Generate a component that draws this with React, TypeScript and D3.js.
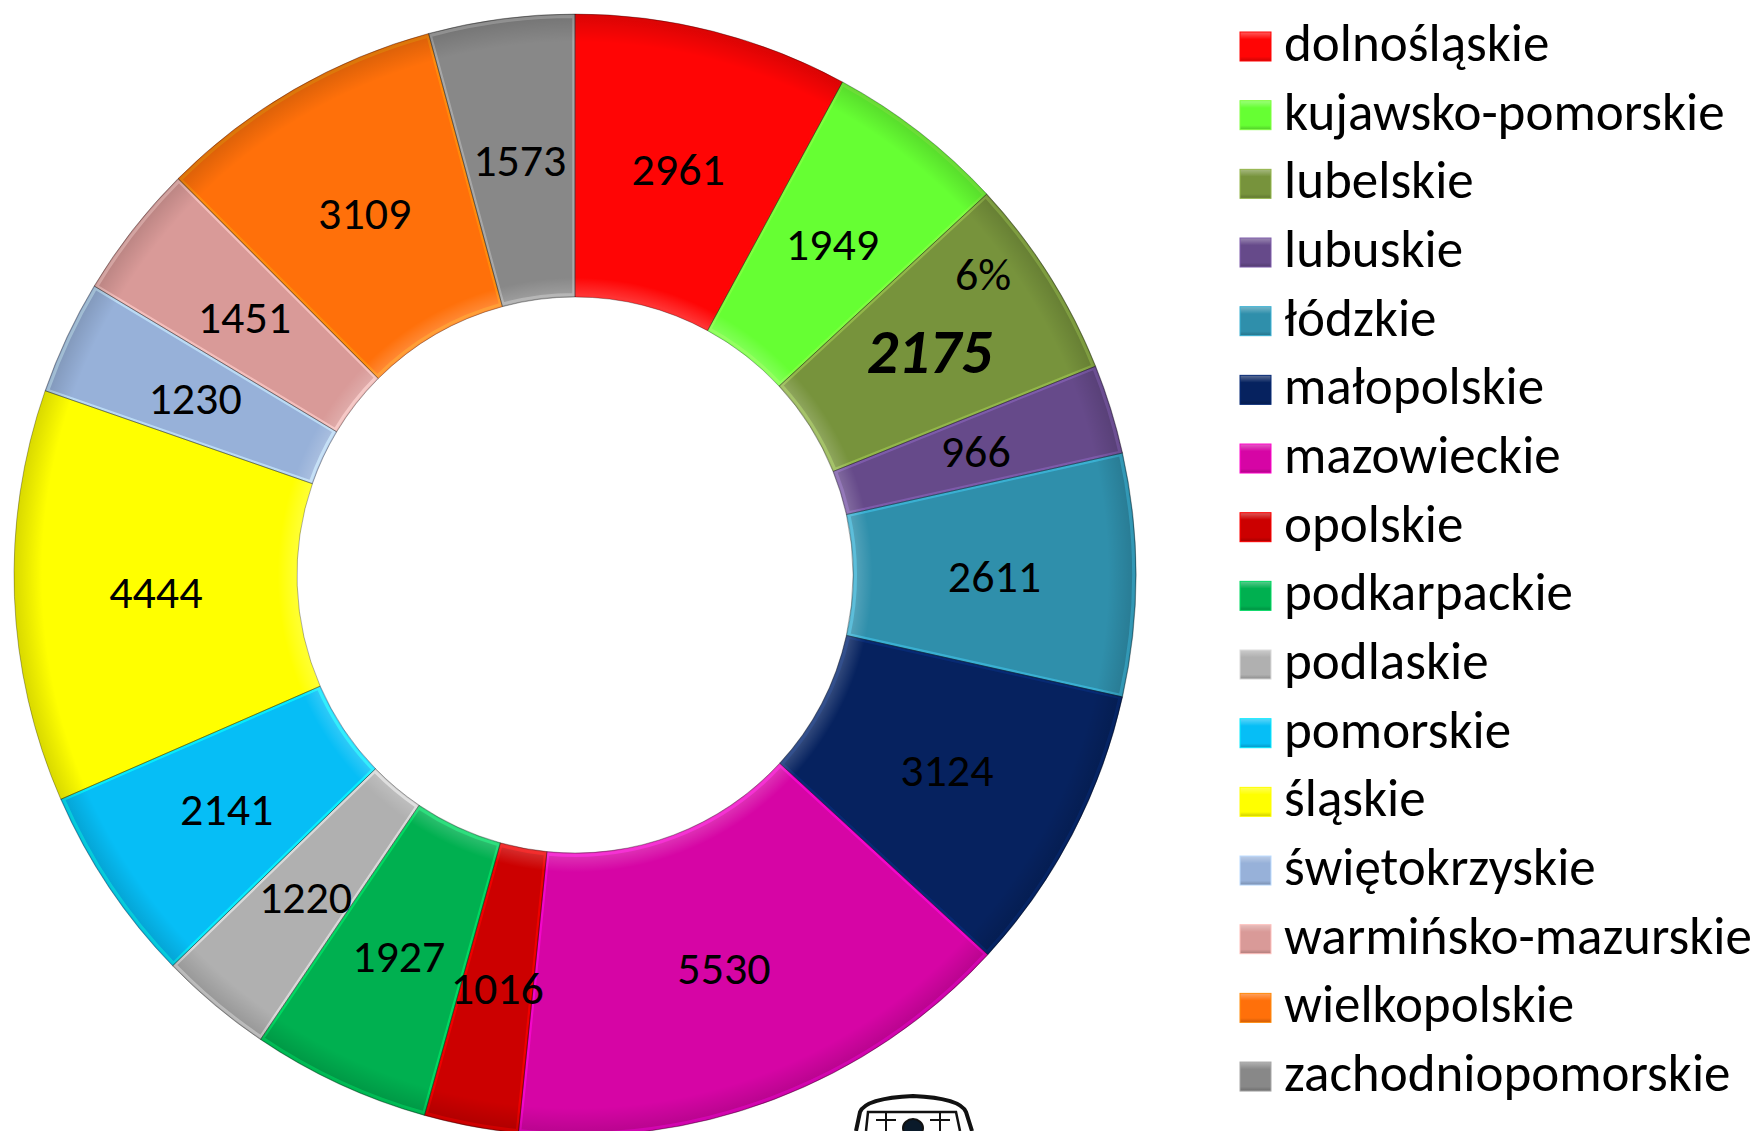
import React from "react";
import * as d3 from "d3";

const regions = [
  "dolnośląskie",
  "kujawsko-pomorskie",
  "lubelskie",
  "lubuskie",
  "łódzkie",
  "małopolskie",
  "mazowieckie",
  "opolskie",
  "podkarpackie",
  "podlaskie",
  "pomorskie",
  "śląskie",
  "świętokrzyskie",
  "warmińsko-mazurskie",
  "wielkopolskie",
  "zachodniopomorskie",
];

const values = [2961, 1949, 2175, 966, 2611, 3124, 5530, 1016, 1927, 1220, 2141, 4444, 1230, 1451, 3109, 1573];

const colors = [
  "#FF0505",
  "#66FF33",
  "#77933C",
  "#664A8A",
  "#2F8FAB",
  "#06225F",
  "#D605A5",
  "#CC0000",
  "#00B050",
  "#B0B0B0",
  "#06BEF6",
  "#FFFF00",
  "#97B1D9",
  "#D99A98",
  "#FF700A",
  "#888888",
];

// the one point that shows its percentage and a bold italic value
const highlighted = "lubelskie";

const W = 1762;
const H = 1131;
const cx = 575;
const cy = 575;
const outerR = 561;
const innerR = 278;
const FONT = "Carlito, Calibri, Lato, sans-serif";

export default function App() {
  const pie = d3
    .pie<number>()
    .sort(null)
    .value((d) => d);
  const arcs = pie(values);
  const total = d3.sum(values);

  const arc = d3.arc<d3.PieArcDatum<number>>().innerRadius(innerR).outerRadius(outerR);
  const bevel = d3
    .arc<d3.PieArcDatum<number>>()
    .innerRadius(innerR + 2.5)
    .outerRadius(outerR - 2.5)
    .padAngle(0.004);

  const legendY = d3
    .scalePoint<string>()
    .domain(regions)
    .range([32, 32 + 68.67 * (regions.length - 1)]);

  return (
    <svg
      width={W}
      height={H}
      style={{ position: "absolute", left: 0, top: 0, background: "#fff" }}
      fontFamily={FONT}
    >
      <defs>
        <radialGradient id="shade" gradientUnits="userSpaceOnUse" cx={0} cy={0} r={outerR}>
          <stop offset="0.5" stopColor="#fff" stopOpacity={0.18} />
          <stop offset="0.53" stopColor="#fff" stopOpacity={0} />
          <stop offset="0.95" stopColor="#000" stopOpacity={0} />
          <stop offset="1" stopColor="#000" stopOpacity={0.15} />
        </radialGradient>
        <linearGradient id="sq" x1="0" y1="0" x2="0" y2="1">
          <stop offset="0" stopColor="#fff" stopOpacity={0.35} />
          <stop offset="0.25" stopColor="#fff" stopOpacity={0} />
          <stop offset="0.85" stopColor="#000" stopOpacity={0} />
          <stop offset="1" stopColor="#000" stopOpacity={0.2} />
        </linearGradient>
      </defs>

      <g transform={`translate(${cx},${cy})`}>
        {arcs.map((a, i) => (
          <path key={`f${i}`} d={arc(a) || ""} fill={colors[i]} />
        ))}
        {arcs.map((a, i) => (
          <path
            key={`b${i}`}
            d={bevel(a) || ""}
            fill="none"
            stroke={d3.color(colors[i])!.brighter(0.8).formatHex()}
            strokeOpacity={0.7}
            strokeWidth={3}
          />
        ))}
        {arcs.map((a, i) => (
          <path key={`s${i}`} d={arc(a) || ""} fill="url(#shade)" stroke="rgba(0,0,0,0.3)" strokeWidth={1} />
        ))}
        {arcs.map((a, i) => {
          const [x, y] = arc.centroid(a);
          const big = regions[i] === highlighted;
          return (
            <text
              key={`l${i}`}
              x={x}
              y={y}
              dy="0.36em"
              textAnchor="middle"
              fontSize={big ? 62 : 46}
              fontWeight={big ? "bold" : "normal"}
              fontStyle={big ? "italic" : "normal"}
              fill="#000"
            >
              {values[i]}
            </text>
          );
        })}
        {arcs
          .filter((a, i) => regions[i] === highlighted)
          .map((a) => {
            const ang = a.startAngle + 0.3 * (a.endAngle - a.startAngle);
            const r = outerR * 0.905;
            return (
              <text
                key="pct"
                x={r * Math.sin(ang)}
                y={-r * Math.cos(ang)}
                dy="0.36em"
                textAnchor="middle"
                fontSize={46}
                fill="#000"
              >
                {d3.format(".0%")(a.value / total)}
              </text>
            );
          })}
      </g>

      <g>
        {regions.map((name, i) => (
          <g key={name} transform={`translate(1240,${legendY(name)})`}>
            <rect width={31} height={29} fill={colors[i]} />
            <rect width={31} height={29} fill="url(#sq)" stroke={d3.color(colors[i])!.brighter(0.6).formatHex()} strokeWidth={1} />
            <text x={44} y={29} fontSize={53} fill="#000">
              {name}
            </text>
          </g>
        ))}
      </g>

      {/* partial logo at the bottom edge */}
      <g fill="none" stroke="#111" strokeWidth={4}>
        <path d="M856,1131 L860,1112 Q866,1098 913,1096 Q960,1098 966,1112 L972,1131" fill="#fff" />
        <path d="M866,1131 L868,1112 L956,1112 L960,1131" strokeWidth={2.5} />
        <path d="M876,1120 L896,1120 M886,1112 L886,1131 M930,1120 L950,1120 M940,1112 L940,1131" strokeWidth={2} />
        <ellipse cx={913} cy={1128} rx={10} ry={9} fill="#0a1a2a" strokeWidth={2} />
      </g>
    </svg>
  );
}
